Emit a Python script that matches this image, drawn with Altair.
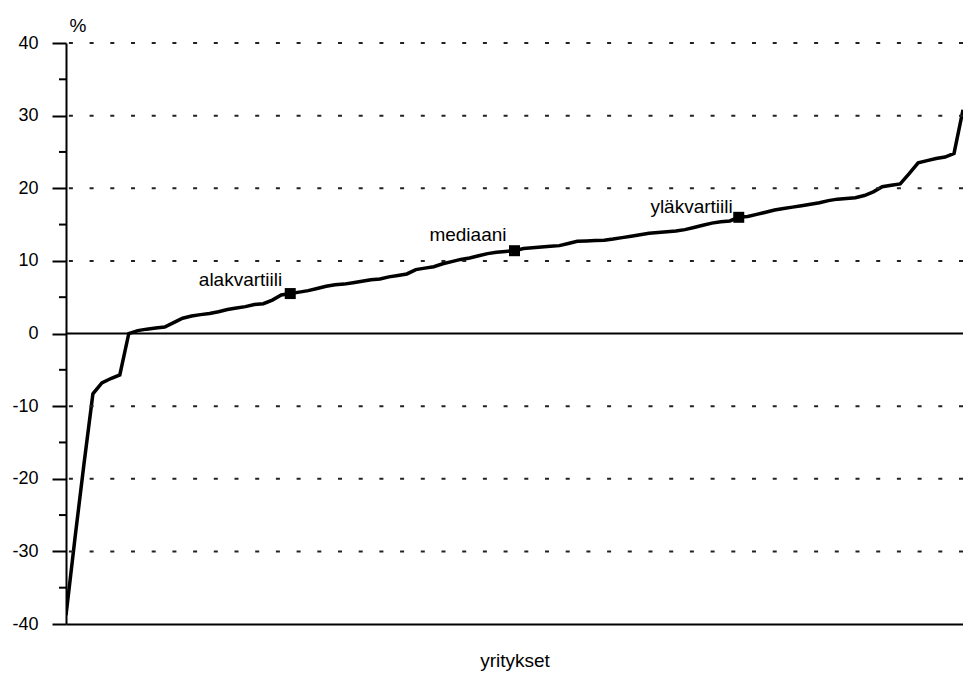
import altair as alt
import pandas as pd

# --- data ---
yritys = list(range(101))
arvo = [
    -38.8, -28.2, -18.0, -8.3, -6.8, -6.2, -5.7, 0.0, 0.4, 0.6,
    0.75, 0.9, 1.5, 2.1, 2.4, 2.6, 2.75, 3.0, 3.3, 3.5,
    3.7, 4.0, 4.1, 4.6, 5.3, 5.5, 5.7, 5.9, 6.2, 6.5,
    6.7, 6.8, 7.0, 7.2, 7.4, 7.5, 7.8, 8.0, 8.2, 8.8,
    9.0, 9.2, 9.6, 9.9, 10.2, 10.4, 10.7, 11.0, 11.2, 11.3,
    11.4, 11.7, 11.8, 11.9, 12.0, 12.1, 12.4, 12.7, 12.75, 12.8,
    12.85, 13.0, 13.2, 13.4, 13.6, 13.8, 13.9, 14.0, 14.1, 14.3,
    14.6, 14.9, 15.2, 15.4, 15.5, 16.0, 16.1, 16.4, 16.7, 17.0,
    17.2, 17.4, 17.6, 17.8, 18.0, 18.3, 18.5, 18.6, 18.7, 19.0,
    19.5, 20.2, 20.4, 20.6, 22.0, 23.5, 23.8, 24.1, 24.3, 24.8,
    30.8,
]
kvartiili_nimet = ["alakvartiili", "mediaani", "yläkvartiili"]
kvartiili_indeksit = [25, 50, 75]
grid_arvot = [-30, -20, -10, 10, 20, 30, 40]
y_tikit = list(range(-40, 45, 10))
y_pikkutikit = list(range(-35, 40, 10))

FONT = "Liberation Sans"

df = pd.DataFrame({"yritys": yritys, "arvo": arvo})
kv = df.iloc[kvartiili_indeksit].copy()
kv["nimi"] = kvartiili_nimet
grid_df = pd.DataFrame({"arvo": grid_arvot})
zero_df = pd.DataFrame({"arvo": [0]})
minor_df = pd.DataFrame({"arvo": y_pikkutikit})

xs = alt.Scale(domain=[0, 100], nice=False, zero=False, padding=0)
ys = alt.Scale(domain=[-40, 40], nice=False, zero=False, padding=0)

line = alt.Chart(df).mark_line(color="black", strokeWidth=3.5, clip=True).encode(
    x=alt.X(
        "yritys:Q",
        scale=xs,
        axis=alt.Axis(
            title="yritykset",
            labels=False,
            ticks=False,
            grid=False,
            domainColor="black",
            domainWidth=2,
            titleFont=FONT,
            titleFontSize=19,
            titleFontWeight="normal",
            titleColor="black",
            titleBaseline="alphabetic",
            titleY=42,
        ),
    ),
    y=alt.Y(
        "arvo:Q",
        scale=ys,
        axis=alt.Axis(
            title="%",
            values=y_tikit,
            grid=False,
            domainColor="black",
            domainWidth=2,
            tickColor="black",
            tickWidth=2,
            tickSize=14,
            labelExpr="toString(datum.value)",
            labelFont=FONT,
            labelFontSize=18,
            labelColor="black",
            labelPadding=14,
            labelAlign="right",
            labelBaseline="middle",
            titleAngle=0,
            titleAlign="left",
            titleBaseline="alphabetic",
            titleX=3,
            titleY=-12,
            titleFont=FONT,
            titleFontSize=19,
            titleFontWeight="normal",
            titleColor="black",
        ),
    ),
)

# minor ticks on the y axis (every 5 %, between the labelled ones)
minor = alt.Chart(minor_df).mark_rule(color="black", strokeWidth=2).encode(
    y=alt.Y("arvo:Q", scale=ys),
    x=alt.value(-7),
    x2=alt.value(0),
)

grid = alt.Chart(grid_df).mark_rule(
    color="#222222", strokeWidth=2, strokeDash=[4, 16.7]
).encode(y=alt.Y("arvo:Q", scale=ys))

zero = alt.Chart(zero_df).mark_rule(color="black", strokeWidth=2).encode(
    y=alt.Y("arvo:Q", scale=ys)
)

points = alt.Chart(kv).mark_point(
    shape="square", size=121, filled=True, color="black", opacity=1
).encode(x=alt.X("yritys:Q", scale=xs), y=alt.Y("arvo:Q", scale=ys))

label_offsets = {"alakvartiili": (-8, -8), "mediaani": (-8, -10), "yläkvartiili": (-6, -4)}
labels = []
for nimi in kvartiili_nimet:
    dx, dy = label_offsets[nimi]
    labels.append(
        alt.Chart(kv[kv["nimi"] == nimi])
        .mark_text(
            align="right",
            baseline="alphabetic",
            dx=dx,
            dy=dy,
            font=FONT,
            fontSize=19,
            color="black",
        )
        .encode(
            x=alt.X("yritys:Q", scale=xs),
            y=alt.Y("arvo:Q", scale=ys),
            text="nimi:N",
        )
    )

chart = (
    alt.layer(line, grid, zero, minor, points, *labels)
    .properties(
        width=897,
        height=581,
        padding={"left": 58, "top": 35, "right": 0, "bottom": 47},
        autosize=alt.AutoSizeParams(type="none"),
        background="white",
    )
    .configure_view(stroke=None)
)

chart.save("out.html", embed_options={"renderer": "svg", "actions": False})
